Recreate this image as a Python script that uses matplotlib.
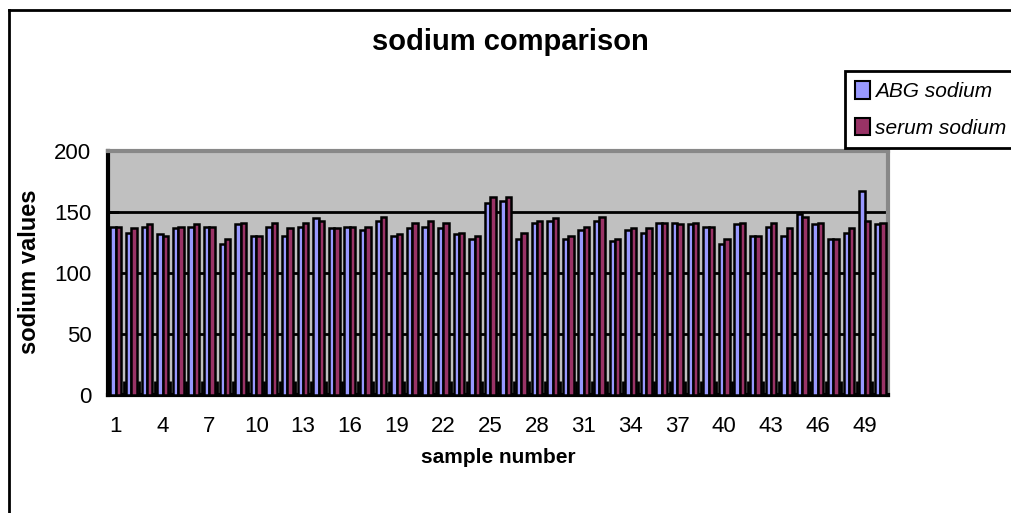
import numpy as np
import matplotlib
matplotlib.use("Agg")
import matplotlib.pyplot as plt
from matplotlib.patches import Patch
from matplotlib.lines import Line2D

samples = np.arange(1, 51)
abg_sodium = [138, 133, 138, 132, 137, 138, 138, 124, 140, 130,
              138, 130, 138, 145, 137, 138, 135, 143, 130, 137,
              138, 137, 132, 128, 157, 159, 128, 141, 143, 128,
              135, 143, 126, 135, 133, 141, 141, 140, 138, 124,
              140, 130, 138, 130, 148, 140, 128, 133, 167, 140]
serum_sodium = [138, 137, 140, 130, 138, 140, 138, 128, 141, 130,
                141, 137, 141, 143, 137, 138, 138, 146, 132, 141,
                143, 141, 133, 130, 162, 162, 133, 143, 145, 130,
                138, 146, 128, 137, 137, 141, 140, 141, 138, 128,
                141, 130, 141, 137, 146, 141, 128, 137, 143, 141]
tick_samples = list(range(1, 51, 3))

sans = ['Liberation Sans', 'DejaVu Sans']

fig = plt.figure(figsize=(10.12, 5.13), dpi=100)
ax = fig.add_axes([108 / 1012, 118 / 513, 780 / 1012, 244 / 513])
ax.set_facecolor('#C0C0C0')

w = 0.34
ax.bar(samples - w / 2, abg_sodium, width=w, color='#9999FF',
       edgecolor='black', linewidth=1.8, zorder=3)
ax.bar(samples + w / 2, serum_sodium, width=w, color='#993366',
       edgecolor='black', linewidth=1.8, zorder=3)

ax.set_xlim(0.5, 50.5)
ax.set_ylim(0, 200)
ax.set_yticks([0, 50, 100, 150, 200])
ax.yaxis.grid(True, color='black', linewidth=2, zorder=1)
ax.set_axisbelow(True)

ax.set_xticks(tick_samples)
ax.set_xticks(np.arange(1.5, 50.5), minor=True)
ax.tick_params(axis='x', which='major', length=0, pad=15)
ax.tick_params(axis='x', which='minor', direction='in', length=10,
               width=2, color='black')
ax.tick_params(axis='y', direction='in', length=8, width=2, pad=12)
for lab in ax.get_xticklabels() + ax.get_yticklabels():
    lab.set_fontfamily(sans)
    lab.set_fontsize(16)

for side in ('left', 'bottom'):
    ax.spines[side].set_linewidth(3)
    ax.spines[side].set_color('black')
for side in ('top', 'right'):
    ax.spines[side].set_linewidth(3)
    ax.spines[side].set_color('#888888')

ax.set_xlabel('sample number', fontfamily=sans, fontweight='bold',
              fontsize=15, labelpad=8)

fig.text(30 / 1012, 1 - 272 / 513, 'sodium values', rotation=90,
         ha='center', va='center', fontfamily=sans, fontweight='bold',
         fontsize=17)

fig.text(0.504, 1 - 42 / 513, 'sodium comparison', ha='center',
         va='center', fontfamily=sans, fontweight='bold', fontsize=21)

handles = [Patch(facecolor='#9999FF', edgecolor='black', linewidth=1.5),
           Patch(facecolor='#993366', edgecolor='black', linewidth=1.5)]
leg = fig.legend(handles, ['ABG sodium', 'serum sodium'], loc='upper left',
                 bbox_to_anchor=(845 / 1012, 1 - 71 / 513),
                 fancybox=False, framealpha=1, edgecolor='black',
                 borderaxespad=0, borderpad=0.5, handlelength=0.7,
                 handleheight=0.9, handletextpad=0.25, labelspacing=0.8,
                 prop={'family': sans, 'style': 'italic', 'size': 15})
leg.get_frame().set_linewidth(2)

# outer chart border
fig.add_artist(Line2D([9 / 1012, 9 / 1012], [0, 1 - 10 / 513],
                      transform=fig.transFigure, color='black', linewidth=2))
fig.add_artist(Line2D([9 / 1012, 1], [1 - 10 / 513, 1 - 10 / 513],
                      transform=fig.transFigure, color='black', linewidth=2))

fig.savefig('out.png', dpi=100)
